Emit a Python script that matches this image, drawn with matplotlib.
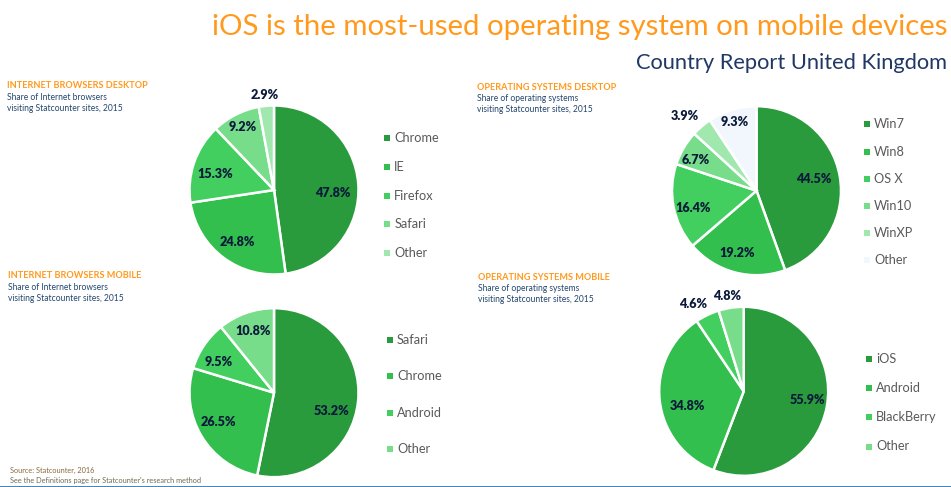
import matplotlib
matplotlib.use('Agg')
import matplotlib.pyplot as plt

plt.rcParams['font.family'] = ['Lato', 'DejaVu Sans']

W, H = 951, 487

# Data
browsers_desktop_names = ['Chrome', 'IE', 'Firefox', 'Safari', 'Other']
browsers_desktop_vals = [47.8, 24.8, 15.3, 9.2, 2.9]
os_desktop_names = ['Win7', 'Win8', 'OS X', 'Win10', 'WinXP', 'Other']
os_desktop_vals = [44.5, 19.2, 16.4, 6.7, 3.9, 9.3]
browsers_mobile_names = ['Safari', 'Chrome', 'Android', 'Other']
browsers_mobile_vals = [53.2, 26.5, 9.5, 10.8]
os_mobile_names = ['iOS', 'Android', 'BlackBerry', 'Other']
os_mobile_vals = [55.9, 34.8, 4.6, 4.8]

greens = ['#2A9B3D', '#33BF4E', '#42CF5F', '#78DD8A', '#A0E8AE', '#F2F7FD']
orange = '#FF9A1E'
navy = '#1F3864'
sub_blue = '#23466E'
label_col = '#0B1A3A'
legend_col = '#5A5A5A'

# one axes over the whole figure, units are pixels, y goes down
fig = plt.figure(figsize=(W / 100, H / 100), dpi=100)
ax = fig.add_axes([0, 0, 1, 1])


def draw_pie(vals, names, center, label_pos, legend_x, legend_y):
    # y axis is flipped so counterclock here looks clockwise from the top
    ax.pie(vals, colors=greens[:len(vals)], center=center, radius=84.5,
           startangle=270, counterclock=True,
           wedgeprops={'edgecolor': 'white', 'linewidth': 1.8})
    for v, (x, y) in zip(vals, label_pos):
        ax.text(x, y, f'{v}%', ha='center', va='center', fontsize=9.1,
                fontweight='heavy', color=label_col)
    for i, name in enumerate(names):
        ax.scatter([legend_x], [legend_y[i]], marker='s', s=20, color=greens[i],
                   linewidths=0, zorder=3)
        ax.text(legend_x + 7, legend_y[i], name, ha='left', va='center',
                fontsize=9.2, color=legend_col)


def draw_header(x, y, head, line1, line2):
    ax.text(x, y + 1, head, ha='left', va='center', fontsize=6.55, fontweight='bold', color=orange)
    ax.text(x, y + 12.5, line1, ha='left', va='center', fontsize=6.15, color=sub_blue)
    ax.text(x, y + 23.5, line2, ha='left', va='center', fontsize=6.15, color=sub_blue)


draw_pie(browsers_desktop_vals, browsers_desktop_names, (274, 190),
         [(332.7, 192.7), (237.7, 241.7), (215, 174), (242.7, 126.7), (265, 95)],
         387.3, [138, 167, 196, 224, 253])
draw_pie(os_desktop_vals, os_desktop_names, (756.5, 190.7),
         [(813.7, 179), (737.3, 252.7), (693.3, 207.7), (696, 160), (685, 116), (734.7, 121.7)],
         867, [124.3, 151.7, 179, 205.7, 232.7, 259.7])
draw_pie(browsers_mobile_vals, browsers_mobile_names, (274, 392.7),
         [(331.7, 410.7), (218.3, 421.7), (218.3, 362), (252.7, 331)],
         390, [340, 376, 412.7, 448.7])
draw_pie(os_mobile_vals, os_mobile_names, (743.7, 391.3),
         [(807, 399.7), (687.7, 406), (693, 304), (727, 296)],
         869.3, [359, 388, 417, 446.5])

draw_header(7, 85, 'INTERNET BROWSERS DESKTOP', 'Share of Internet browsers', 'visiting Statcounter sites, 2015')
draw_header(477, 86, 'OPERATING SYSTEMS DESKTOP', 'Share of operating systems', 'visiting Statcounter sites, 2015')
draw_header(8, 275, 'INTERNET BROWSERS MOBILE', 'Share of Internet browsers', 'visiting Statcounter sites, 2015')
draw_header(478, 276, 'OPERATING SYSTEMS MOBILE', 'Share of operating systems', 'visiting Statcounter sites, 2015')

ax.text(947, 27, 'iOS is the most-used operating system on mobile devices', ha='right', va='center',
        fontsize=21.2, color=orange)
ax.text(947, 63, 'Country Report United Kingdom', ha='right', va='center', fontsize=15.75, color=navy)

ax.text(10, 470, 'Source: Statcounter, 2016', ha='left', va='center', fontsize=5.3, color='#8A6A3A')
ax.text(10, 480, "See the Definitions page for Statcounter's research method", ha='left', va='center',
        fontsize=5.3, color='#6B6B55')
ax.plot([0, W], [486.5, 486.5], color='#1F6FB0', linewidth=1.2)

ax.set_aspect('equal')
ax.set_xlim(0, W)
ax.set_ylim(H, 0)
ax.axis('off')

fig.savefig('out.png', dpi=100)
